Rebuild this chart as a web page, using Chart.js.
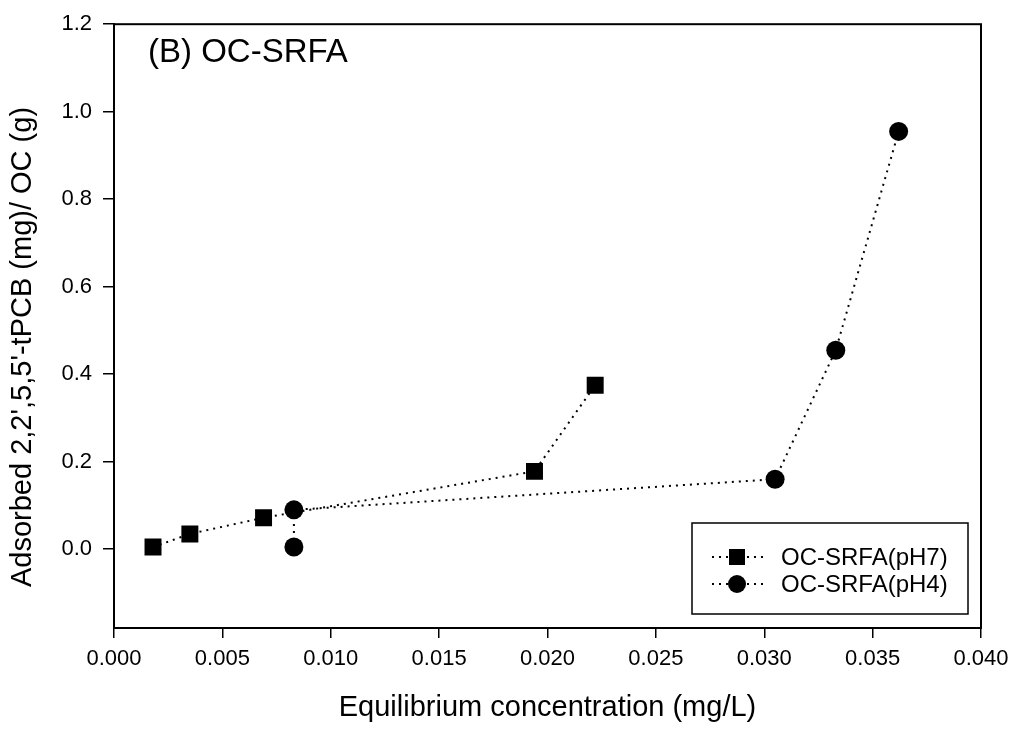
<!DOCTYPE html>
<html>
<head>
<meta charset="utf-8">
<script src="https://cdn.jsdelivr.net/npm/chart.js@4.4.0/dist/chart.umd.min.js"></script>
<style>
html,body{margin:0;padding:0;background:#fff;}
#wrap{width:1018px;height:729px;}
</style>
</head>
<body>
<div id="wrap"><canvas id="c" width="1018" height="729"></canvas></div>
<script>
// Data
const pH7X = [0.0018, 0.0035, 0.0069, 0.0194, 0.0222];
const pH7Y = [0.005, 0.035, 0.072, 0.178, 0.375];
const pH4X = [0.0083, 0.0083, 0.0305, 0.0333, 0.0362];
const pH4Y = [0.005, 0.090, 0.160, 0.455, 0.955];
const seriesNames = ['OC-SRFA(pH7)', 'OC-SRFA(pH4)'];
const yTickValues = [0.0, 0.2, 0.4, 0.6, 0.8, 1.0, 1.2];
const panelTitle = '(B) OC-SRFA';
const xTitle = 'Equilibrium concentration (mg/L)';
const yTitle = "Adsorbed 2,2',5,5'-tPCB (mg)/ OC (g)";

const FONT = '"Liberation Sans", Arial, sans-serif';
const toPts = (xs, ys) => xs.map((x, i) => ({x: x, y: ys[i]}));

const framePlugin = {
  id: 'frame',
  afterDraw(chart) {
    const {ctx, chartArea: a} = chart;
    ctx.save();
    ctx.strokeStyle = '#000';
    ctx.lineWidth = 2;
    ctx.strokeRect(a.left, a.top, a.right - a.left, a.bottom - a.top);
    ctx.fillStyle = '#000';
    // y-axis title
    ctx.save();
    ctx.translate(23, 347);
    ctx.rotate(-Math.PI / 2);
    ctx.font = '29px ' + FONT;
    ctx.textAlign = 'center';
    ctx.textBaseline = 'middle';
    ctx.fillText(yTitle, 0, 0);
    ctx.restore();
    // panel title
    ctx.font = '33px ' + FONT;
    ctx.textBaseline = 'alphabetic';
    ctx.fillText(panelTitle, 148, 62);
    // legend box
    const bx = 692, by = 523, bw = 276, bh = 91;
    ctx.lineWidth = 1.5;
    ctx.strokeRect(bx, by, bw, bh);
    const rows = [557, 584];
    const styles = ['rect', 'circle'];
    ctx.font = '24px ' + FONT;
    rows.forEach((ry, i) => {
      ctx.save();
      ctx.setLineDash([2, 5]);
      ctx.lineWidth = 2;
      ctx.beginPath();
      ctx.moveTo(712, ry);
      ctx.lineTo(764, ry);
      ctx.stroke();
      ctx.restore();
      ctx.fillStyle = '#000';
      if (styles[i] === 'rect') {
        ctx.fillRect(737 - 8, ry - 8, 16, 16);
      } else {
        ctx.beginPath();
        ctx.arc(737, ry, 9, 0, Math.PI * 2);
        ctx.fill();
      }
      ctx.textBaseline = 'middle';
      ctx.fillText(seriesNames[i], 781, ry + 1);
    });
    ctx.restore();
  }
};

new Chart(document.getElementById('c'), {
  type: 'scatter',
  data: {
    datasets: [
      {
        label: seriesNames[0],
        data: toPts(pH7X, pH7Y),
        showLine: true,
        borderColor: '#000',
        backgroundColor: '#000',
        borderWidth: 2,
        borderDash: [2, 5],
        pointStyle: 'rect',
        pointRadius: 12,
        pointBorderWidth: 0,
        pointHoverRadius: 12
      },
      {
        label: seriesNames[1],
        data: toPts(pH4X, pH4Y),
        showLine: true,
        borderColor: '#000',
        backgroundColor: '#000',
        borderWidth: 2,
        borderDash: [2, 5],
        pointStyle: 'circle',
        pointRadius: 9.5,
        pointBorderWidth: 0,
        pointHoverRadius: 9.5
      }
    ]
  },
  options: {
    responsive: false,
    animation: false,
    events: [],
    layout: {padding: {left: 0, top: 18, right: 37, bottom: 0}},
    plugins: {
      legend: {display: false},
      tooltip: {enabled: false},
      title: {display: false}
    },
    scales: {
      x: {
        type: 'linear',
        min: 0,
        max: 0.04,
        afterFit(s) { s.height = 101; },
        border: {display: true, color: '#000', width: 2},
        grid: {display: true, drawOnChartArea: false, drawTicks: true, tickLength: 10, color: '#000', lineWidth: 1.5},
        ticks: {
          stepSize: 0.005,
          padding: 8,
          color: '#000',
          font: {family: FONT, size: 22},
          maxRotation: 0,
          callback: v => v.toFixed(3)
        },
        title: {
          display: true,
          text: xTitle,
          color: '#000',
          font: {family: FONT, size: 29},
          padding: {top: 0, bottom: 4}
        }
      },
      y: {
        type: 'linear',
        min: -0.18,
        max: 1.2,
        afterFit(s) { s.width = 114; },
        afterBuildTicks(s) { s.ticks = yTickValues.map(v => ({value: v})); },
        border: {display: true, color: '#000', width: 2},
        grid: {display: true, drawOnChartArea: false, drawTicks: true, tickLength: 11, color: '#000', lineWidth: 1.5},
        ticks: {
          padding: 11,
          color: '#000',
          font: {family: FONT, size: 22},
          callback: v => v.toFixed(1)
        },
        title: {display: false}
      }
    }
  },
  plugins: [framePlugin]
});
</script>
</body>
</html>
